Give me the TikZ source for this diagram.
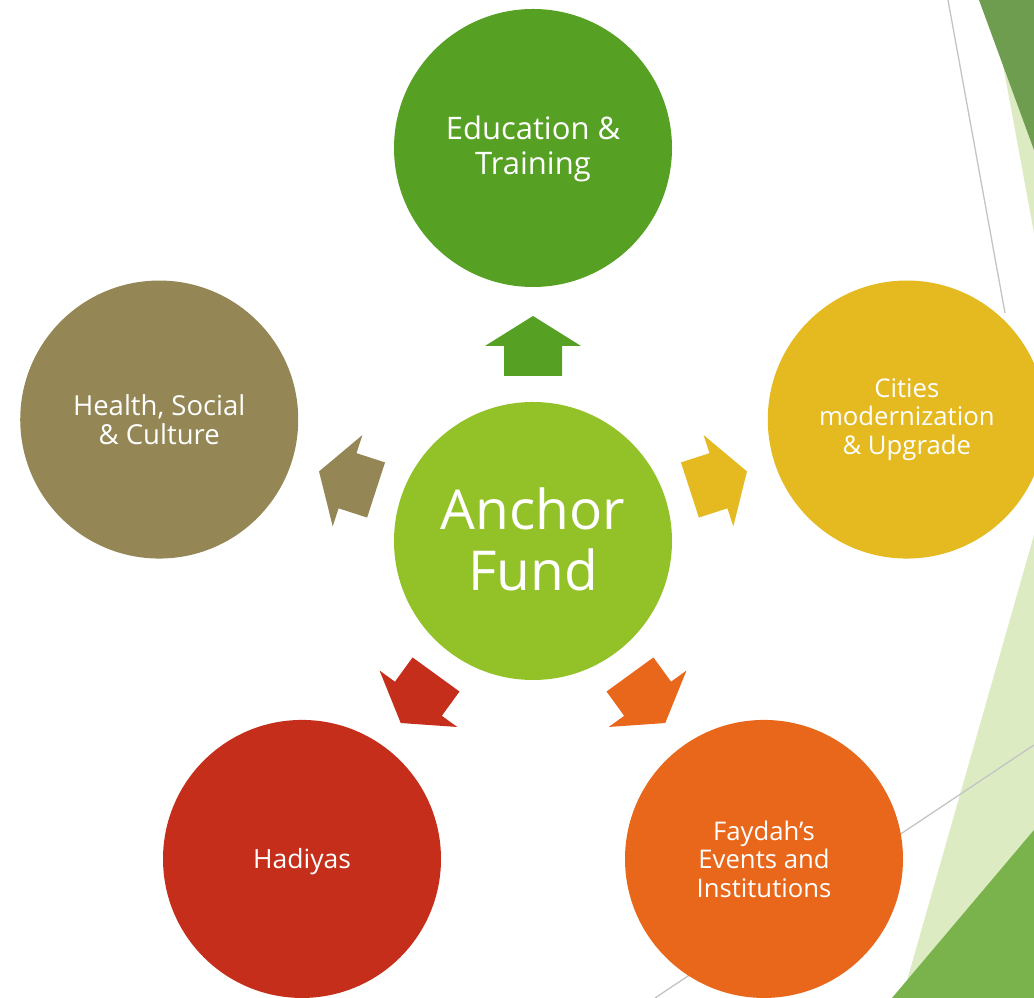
\documentclass[tikz,border=0pt]{standalone}
\usepackage{fontspec}
\setmainfont{Open Sans}
\usetikzlibrary{calc}
\definecolor{paleGreen}{HTML}{DDEBC3}
\definecolor{deepGreen}{HTML}{6E9D50}
\definecolor{leafGreen}{HTML}{7AB24B}
\definecolor{lineGray}{HTML}{C4C4C4}
\definecolor{hubGreen}{HTML}{93C228}
\definecolor{eduGreen}{HTML}{56A024}
\definecolor{cityGold}{HTML}{E5B920}
\definecolor{faydahOrange}{HTML}{E8671B}
\definecolor{hadiyaRed}{HTML}{C42E1A}
\definecolor{healthOlive}{HTML}{948755}
\begin{document}
\begin{tikzpicture}[x=1pt,y=1pt,
  bubble/.style={circle, minimum size=278pt, inner sep=0pt},
  caption/.style={text=white, align=center, inner sep=0pt,
    font=\fontsize{25.7}{28.5}\selectfont},
  guide/.style={draw=lineGray, line width=1.3pt}]
\useasboundingbox (0,0) rectangle (1034,998);

% facet triangles along the right edge
\fill[paleGreen] (991,998) -- (1034,998) -- (1034,765) -- cycle;
\fill[deepGreen] (979,998) -- (1034,998) -- (1034,848) -- cycle;
\fill[paleGreen] (1034,463) -- (1034,0) -- (902,0) -- cycle;
\fill[leafGreen] (1034,168) -- (1034,0) -- (892,0) -- cycle;
\coordinate (g1a) at (948,998);
\coordinate (g1b) at (1005,685);
\coordinate (g2a) at (655,0);
\coordinate (g2b) at (1034,253);
\draw[guide] (g1a) -- (g1b);
\draw[guide] (g2a) -- (g2b);

% hub and the five areas
\node[bubble, fill=hubGreen] (hub) at (533,457) {};
\node[bubble, fill=eduGreen] (edu) at ($(hub)+(90:393)$) {};
\node[bubble, fill=cityGold] (city) at ($(hub)+(18:393)$) {};
\node[bubble, fill=faydahOrange] (faydah) at ($(hub)+(-54:393)$) {};
\node[bubble, fill=hadiyaRed] (hadiya) at ($(hub)+(-126:393)$) {};
\node[bubble, fill=healthOlive] (health) at ($(hub)+(162:393)$) {};

% captions
\node[caption, font=\fontsize{55}{61}\selectfont, yshift=2pt] (hubLabel) at (hub) {Anchor\\Fund};
\node[caption, font=\fontsize{31}{35}\selectfont, yshift=-1pt] (eduLabel) at (edu) {Education \&\\Training};
\node[caption] (cityLabel) at (city) {Cities\\modernization\\\& Upgrade};
\node[caption] (faydahLabel) at (faydah) {Faydah’s\\Events and\\Institutions};
\node[caption, font=\fontsize{26.5}{28.5}\selectfont, yshift=-3pt] (hadiyaLabel) at (hadiya) {Hadiyas};
\node[caption, font=\fontsize{27.5}{28.5}\selectfont] (healthLabel) at (health) {Health, Social\\\& Culture};

% block arrows from the hub towards each area
\foreach \ang/\col in {90/eduGreen, 18/cityGold, -54/faydahOrange, -126/hadiyaRed, 162/healthOlive}{
  \fill[\col, shift={(hub.center)}, rotate=\ang-90]
    (-29,165) -- (29,165) -- (29,195) -- (48,195) -- (0,225)
    -- (-48,195) -- (-29,195) -- cycle;
}
\end{tikzpicture}
\end{document}
